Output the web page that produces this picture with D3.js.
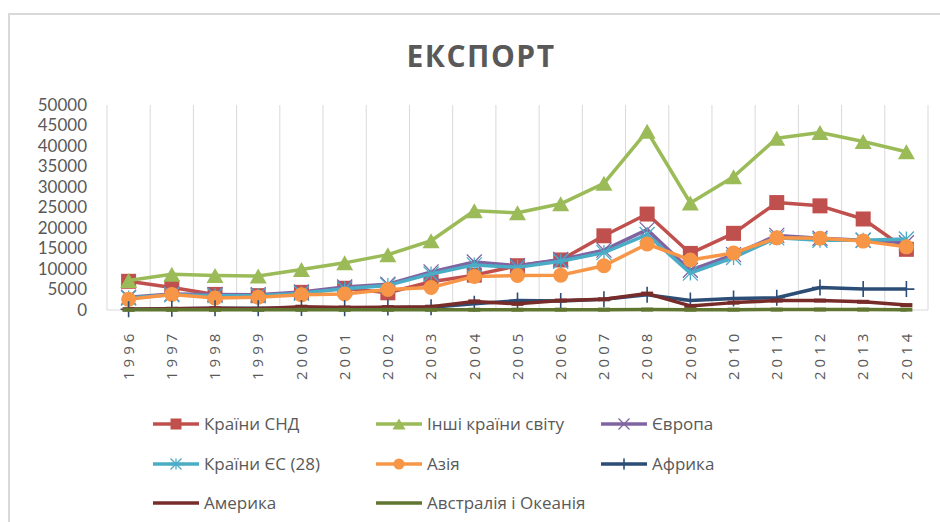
<!DOCTYPE html>
<html><head><meta charset="utf-8">
<script src="https://cdn.jsdelivr.net/npm/d3@7"></script>
<style>
body{margin:0;background:#fff;}
svg{display:block;}
</style></head>
<body>
<svg id="chart" width="940" height="522"></svg>
<script>
const years = ["1996","1997","1998","1999","2000","2001","2002","2003","2004","2005","2006","2007","2008","2009","2010","2011","2012","2013","2014"];
const yTicks = [0,5000,10000,15000,20000,25000,30000,35000,40000,45000,50000];
const cis       = [7000,5500,3800,3500,4300,5300,4200,6900,8500,10800,12200,18100,23400,13800,18700,26200,25400,22200,14800];
const others    = [7200,8700,8400,8300,9900,11500,13500,16900,24200,23700,25900,30900,43600,26100,32500,41900,43300,41100,38600];
const europe    = [3100,3900,3800,3700,4400,5600,6300,9300,11700,10800,12300,14600,19600,9700,13500,18200,17500,17000,16400];
const eu28      = [2900,3700,3500,3500,4100,5200,6000,8800,11000,10400,11900,14000,18400,9000,12800,17600,17000,17000,17300];
const asia      = [2600,3800,2900,3100,3700,3900,5000,5500,8200,8400,8500,10800,16100,12200,13900,17600,17500,16800,15400];
const africa    = [200,300,400,400,500,400,600,700,1500,2300,2200,2600,3700,2300,2800,3000,5500,5100,5100];
const america   = [200,300,400,300,800,600,700,800,2100,1500,2300,2600,4000,1000,1800,2300,2300,2000,1200];
const australia = [40,50,50,40,60,50,60,60,70,80,80,90,100,80,90,100,110,100,90];

const seriesNames = ["Країни СНД","Інші країни світу","Європа","Країни ЄС (28)","Азія","Африка","Америка","Австралія і Океанія"];
const seriesData = [cis, others, europe, eu28, asia, africa, america, australia];
const colors = ["#C0504D","#9BBB59","#8064A2","#4BACC6","#F79646","#2C4D75","#772C2A","#5F7530"];
const markers = ["square","triangle","x","star","circle","plus","dash","dash"];

const svg = d3.select("#chart");
const font = "'Open Sans', sans-serif";
const grey = "#595959";

// chart frame
svg.append("rect").attr("x",9).attr("y",14).attr("width",960).attr("height",540)
  .attr("fill","none").attr("stroke","#d9d9d9").attr("stroke-width",2);

// title
svg.append("text").attr("x",481).attr("y",67).attr("text-anchor","middle")
  .attr("font-family",font).attr("font-weight","bold").attr("font-size",30)
  .attr("letter-spacing","1.5px").attr("fill",grey).text("ЕКСПОРТ");

const x = d3.scaleBand().domain(years).range([107,928]).padding(0);
const y = d3.scaleLinear().domain([0,50000]).range([310,105]);
const cx = d => x(d) + x.bandwidth()/2;

// vertical gridlines at category boundaries
const bounds = years.map(d => x(d)).concat([x(years[years.length-1]) + x.bandwidth()]);
svg.append("g").selectAll("line").data(bounds).join("line")
  .attr("x1",d=>d).attr("x2",d=>d).attr("y1",y(50000)).attr("y2",y(0))
  .attr("stroke","#d9d9d9").attr("stroke-width",1);

// bottom axis line
svg.append("line").attr("x1",107).attr("x2",928).attr("y1",y(0)).attr("y2",y(0))
  .attr("stroke","#d9d9d9").attr("stroke-width",1);

// y axis
const yAxis = svg.append("g").attr("transform","translate(87,0)")
  .call(d3.axisLeft(y).tickValues(yTicks).tickSize(0).tickPadding(0).tickFormat(d3.format("d")));
yAxis.select(".domain").remove();
yAxis.selectAll("text").attr("font-family","Lato, sans-serif").attr("font-size",17).attr("fill",grey);

// x axis labels (rotated)
const xAxis = svg.append("g").attr("transform","translate(0,380)")
  .call(d3.axisBottom(x).tickSize(0).tickPadding(0));
xAxis.select(".domain").remove();
xAxis.selectAll("text")
  .attr("transform","rotate(-90)")
  .attr("x",0).attr("y",0).attr("dy","0.35em")
  .attr("text-anchor","start")
  .attr("font-family",font).attr("font-size",15).attr("letter-spacing","4px").attr("fill",grey);

function drawMarker(g, type, color, s){
  const h = s/2;
  if(type==="square"){
    g.append("rect").attr("x",-h).attr("y",-h).attr("width",s).attr("height",s).attr("fill",color);
  } else if(type==="triangle"){
    g.append("path").attr("d",`M0,${-h}L${h+1},${h}L${-h-1},${h}Z`).attr("fill",color);
  } else if(type==="circle"){
    g.append("circle").attr("r",h).attr("fill",color);
  } else if(type==="x"){
    g.append("path").attr("d",`M${-h},${-h}L${h},${h}M${-h},${h}L${h},${-h}`).attr("stroke",color).attr("stroke-width",1.3).attr("fill","none");
  } else if(type==="star"){
    g.append("path").attr("d",`M${-h},${-h}L${h},${h}M${-h},${h}L${h},${-h}M0,${-h}L0,${h}`).attr("stroke",color).attr("stroke-width",1.3).attr("fill","none");
  } else if(type==="plus"){
    g.append("path").attr("d",`M${-h},0L${h},0M0,${-h}L0,${h}`).attr("stroke",color).attr("stroke-width",1.6).attr("fill","none");
  } else if(type==="dash"){
    g.append("rect").attr("x",-h).attr("y",-2).attr("width",s).attr("height",4).attr("fill",color);
  }
}

const line = d3.line().x((d,i)=>cx(years[i])).y(d=>y(d));
const plot = svg.append("g");
seriesData.forEach((vals,si)=>{
  const g = plot.append("g");
  g.append("path").datum(vals).attr("d",line).attr("fill","none")
    .attr("stroke",colors[si]).attr("stroke-width",3.5).attr("stroke-linejoin","round");
  const sizes = {square:15,triangle:15,x:15,star:15,circle:15,plus:16,dash:12};
  vals.forEach((v,i)=>{
    const m = g.append("g").attr("transform",`translate(${cx(years[i])},${y(v)})`);
    drawMarker(m, markers[si], colors[si], sizes[markers[si]]);
  });
});

// legend
const legCols = [153, 376, 601];
const legRows = [424, 464, 503];
seriesNames.forEach((name,i)=>{
  const lx = legCols[i%3], ly = legRows[Math.floor(i/3)];
  const g = svg.append("g").attr("transform",`translate(${lx},${ly})`);
  g.append("line").attr("x1",0).attr("x2",46).attr("y1",0).attr("y2",0)
    .attr("stroke",colors[i]).attr("stroke-width",3.5);
  if(markers[i] !== "dash"){
    const m = g.append("g").attr("transform","translate(23,0)");
    drawMarker(m, markers[i], colors[i], 11);
  }
  g.append("text").attr("x",51).attr("y",0).attr("dy","0.35em")
    .attr("font-family",font).attr("font-size",17).attr("fill",grey).text(name);
});
</script>
</body></html>
